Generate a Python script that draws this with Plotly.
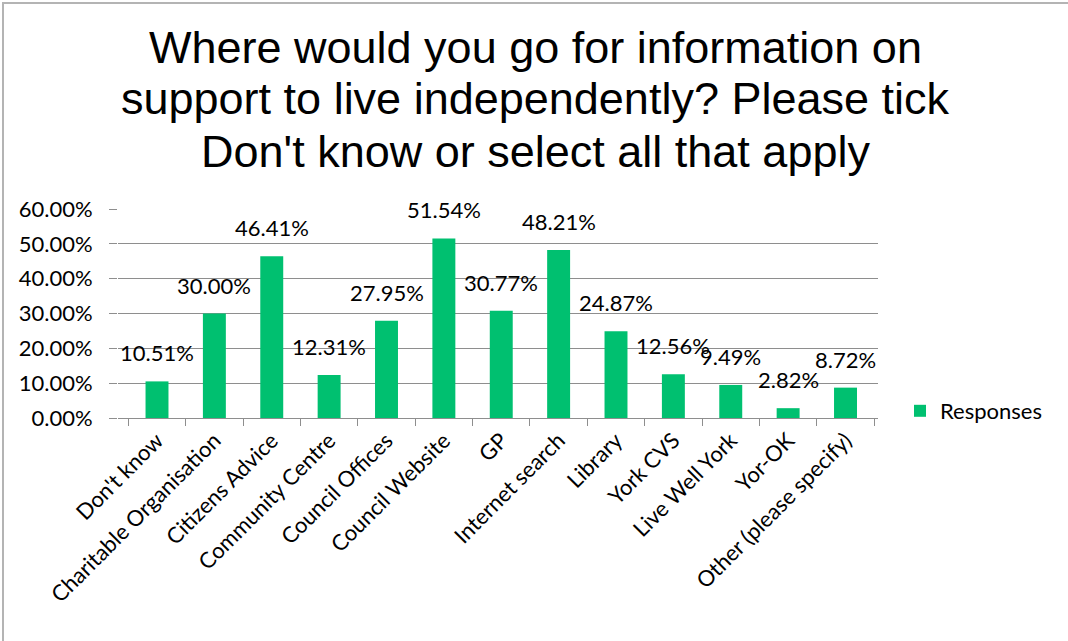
import plotly.graph_objects as go

categories = ["Don't know", "Charitable Organisation", "Citizens Advice", "Community Centre",
              "Council Offices", "Council Website", "GP", "Internet search", "Library",
              "York CVS", "Live Well York", "Yor-OK", "Other (please specify)"]
responses = [10.51, 30.00, 46.41, 12.31, 27.95, 51.54, 30.77, 48.21, 24.87, 12.56, 9.49, 2.82, 8.72]
y_ticks = [0, 10, 20, 30, 40, 50, 60]
y_tick_labels = [f"{t:.2f}%" for t in y_ticks]

title_lines = ["Where would you go for information on",
               "support to live independently? Please tick",
               "Don't know or select all that apply"]

GREEN = "#00C070"
GRID = "#8E8E8E"
LABEL_FONT = "Lato, 'Liberation Sans', sans-serif"

W, H = 1068, 641
ML, MR, MT, MB = 118, 190, 209, 223
pw = W - ML - MR
ph = H - MT - MB

def px_x(x):
    return (x - ML) / pw

def px_y(y):
    return (MT + ph - y) / ph

fig = go.Figure()
fig.add_trace(go.Bar(
    x=categories, y=responses, name="Responses",
    marker=dict(color=GREEN, line=dict(width=0)),
    showlegend=True,
))

for c, v in zip(categories, responses):
    fig.add_annotation(x=c, y=v, text=f"{v:.2f}%", showarrow=False,
                       yanchor="bottom", xanchor="center", yshift=13,
                       font=dict(family=LABEL_FONT, size=22, color="#000000"))

# title, one line per annotation
for i, line in enumerate(title_lines):
    fig.add_annotation(xref="paper", yref="paper", x=px_x(535), y=px_y(47 + 52 * i),
                       text=line, showarrow=False, xanchor="center", yanchor="middle",
                       font=dict(family="Liberation Sans, Arial, sans-serif", size=45,
                                 color="#000000"))

# outer frame (chart area border)
fig.add_shape(type="rect", xref="paper", yref="paper",
              x0=px_x(3), x1=px_x(W + 10), y0=px_y(H + 10), y1=px_y(3),
              line=dict(color="#B4B4B4", width=2), fillcolor="rgba(0,0,0,0)", layer="below")

fig.update_layout(
    width=W, height=H,
    margin=dict(l=ML, r=MR, t=MT, b=MB),
    paper_bgcolor="white", plot_bgcolor="white",
    bargap=0.6,
    legend=dict(x=px_x(900), y=px_y(411), xanchor="left", yanchor="middle",
                itemwidth=30,
                font=dict(family=LABEL_FONT, size=22, color="#000000"),
                bgcolor="rgba(0,0,0,0)"),
    xaxis=dict(type="category", tickangle=-45, showgrid=False, showline=True,
               linecolor=GRID, linewidth=1, ticks="outside", tickson="boundaries",
               ticklen=7, tickcolor=GRID,
               tickfont=dict(family=LABEL_FONT, size=22, color="#000000")),
    yaxis=dict(range=[0, 60], tickvals=y_ticks, ticktext=y_tick_labels,
               showgrid=True, gridcolor=GRID, gridwidth=1, zeroline=False,
               showline=False, ticks="outside", ticklen=8, tickcolor=GRID,
               ticklabelstandoff=12,
               tickfont=dict(family=LABEL_FONT, size=22, color="#000000")),
)

fig.write_html("out.html")
